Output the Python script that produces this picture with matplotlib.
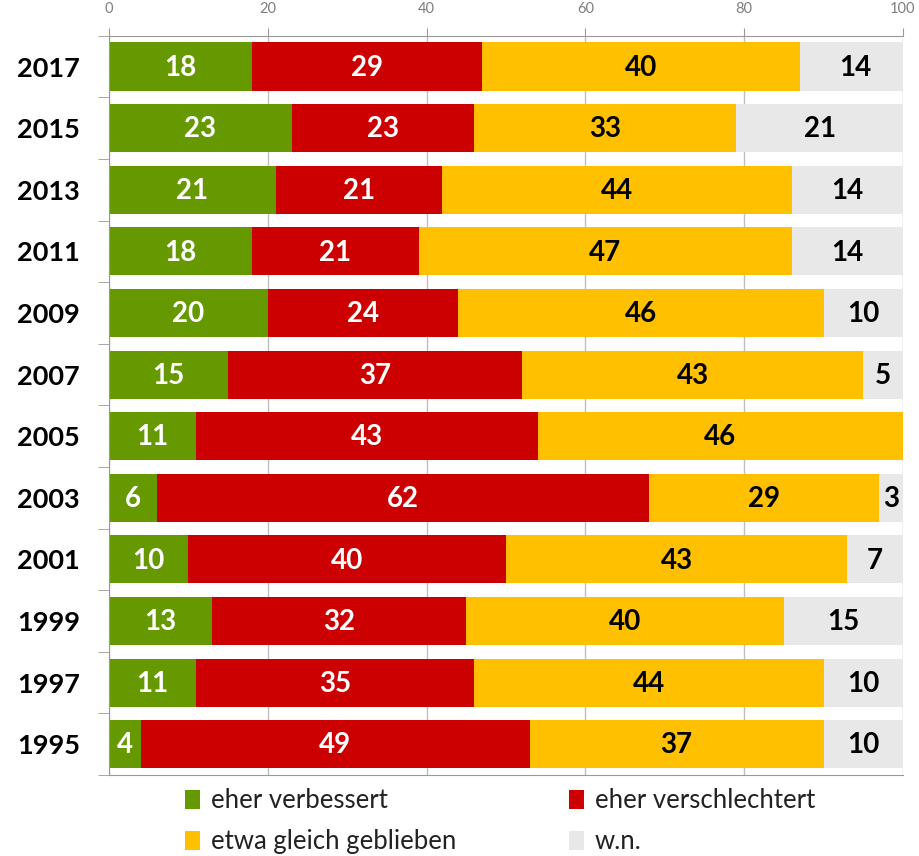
import numpy as np
import matplotlib.pyplot as plt

jahre = ["2017", "2015", "2013", "2011", "2009", "2007", "2005", "2003", "2001", "1999", "1997", "1995"]
verbessert = [18, 23, 21, 18, 20, 15, 11, 6, 10, 13, 11, 4]
verschlechtert = [29, 23, 21, 21, 24, 37, 43, 62, 40, 32, 35, 49]
gleich = [40, 33, 44, 47, 46, 43, 46, 29, 43, 40, 44, 37]
wn = [14, 21, 14, 14, 10, 5, 0, 3, 7, 15, 10, 10]

serien = [
    ("eher verbessert", verbessert, "#669900", "white"),
    ("eher verschlechtert", verschlechtert, "#CC0000", "white"),
    ("etwa gleich geblieben", gleich, "#FFC000", "black"),
    ("w.n.", wn, "#E8E8E8", "black"),
]

plt.rcParams['font.family'] = ['Lato', 'DejaVu Sans']

fig = plt.figure(figsize=(9.2, 8.56), dpi=100)
ax = fig.add_axes([0.1185, 0.0946, 0.8630, 0.8637])

y = np.arange(len(jahre))
links = np.zeros(len(jahre))
handles = []
for name, werte, farbe, textfarbe in serien:
    werte = np.array(werte, dtype=float)
    b = ax.barh(y, werte, left=links, height=0.78, color=farbe, label=name, zorder=2)
    handles.append(b)
    for yi, l, w in zip(y, links, werte):
        if w > 0:
            ax.text(l + w / 2, yi + 0.02, "%d" % w, ha="center", va="center",
                    color=textfarbe, fontsize=20, fontweight="bold", zorder=3)
    links += werte

ax.set_xlim(0, 100)
ax.set_ylim(len(jahre) - 0.5, -0.5)
ax.set_yticks(y)
ax.set_yticklabels(jahre, fontsize=19.5, fontweight="bold")
ax.set_yticks(np.arange(-0.5, len(jahre), 1), minor=True)
ax.tick_params(axis="y", which="major", length=0, pad=21)
ax.tick_params(axis="y", which="minor", length=8, color="#999999")

ax.xaxis.tick_top()
ax.set_xticks([0, 20, 40, 60, 80, 100])
ax.tick_params(axis="x", length=6, color="#999999", labelcolor="#7F7F7F", labelsize=10.5, pad=8)
ax.grid(axis="x", color="#BFBFBF", linewidth=1, zorder=0)

for s in ["top", "left", "bottom"]:
    ax.spines[s].set_color("#999999")
ax.spines["right"].set_visible(False)

# Excel-Reihenfolge: zeilenweise
reihenfolge = [0, 2, 1, 3]
leg = fig.legend([handles[i] for i in reihenfolge], [serien[i][0] for i in reihenfolge],
                 loc="lower left", bbox_to_anchor=(0.201, 0.002), ncol=2, frameon=False,
                 fontsize=18.5, handlelength=0.6, handleheight=0.8, handletextpad=0.4,
                 columnspacing=4.4, labelspacing=0.62, borderpad=0, borderaxespad=0)
for t in leg.get_texts():
    t.set_color("#222222")

fig.savefig("out.png", dpi=100)
